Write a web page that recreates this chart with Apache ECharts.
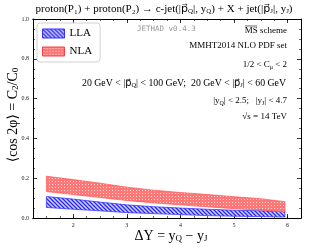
<!DOCTYPE html>
<html><head><meta charset="utf-8">
<script src="https://cdn.jsdelivr.net/npm/echarts@6/dist/echarts.min.js"></script>
<style>html,body{margin:0;padding:0;background:#fff}#c{width:316px;height:249px}</style>
</head><body><div id="c"></div>
<script>
// ---- data ----
const deltaY   = [1.5, 2, 2.5, 3, 3.5, 4, 4.5, 5, 5.5, 5.95];
const llaLow   = [0.053, 0.044, 0.036, 0.027, 0.022, 0.017, 0.012, 0.009, 0.007, 0.005];
const llaHigh  = [0.108, 0.095, 0.080, 0.066, 0.057, 0.050, 0.044, 0.039, 0.036, 0.033];
const nlaLow   = [0.133, 0.118, 0.103, 0.088, 0.076, 0.066, 0.056, 0.047, 0.040, 0.030];
const nlaHigh  = [0.210, 0.193, 0.175, 0.155, 0.140, 0.128, 0.118, 0.107, 0.097, 0.082];
const xMajor   = [2, 3, 4, 5, 6];

function hatch() {
  const c = document.createElement('canvas'); c.width = c.height = 4;
  const g = c.getContext('2d');
  g.fillStyle = '#d0d0ff'; g.fillRect(0, 0, 4, 4);
  g.strokeStyle = '#2828f0'; g.lineWidth = 1.3;
  g.beginPath();
  g.moveTo(0, 0); g.lineTo(4, 4);
  g.moveTo(-1, 3); g.lineTo(1, 5);
  g.moveTo(3, -1); g.lineTo(5, 1);
  g.stroke();
  return c;
}
function dots() {
  const c = document.createElement('canvas'); c.width = c.height = 3;
  const g = c.getContext('2d');
  g.fillStyle = '#ff7878'; g.fillRect(0, 0, 3, 3);
  g.fillStyle = '#ffd8d8'; g.fillRect(1, 1, 1, 1);
  return c;
}
const bluePat = {image: hatch(), repeat: 'repeat'};
const redPat = {image: dots(), repeat: 'repeat'};

const serif = '"Liberation Serif", "DejaVu Serif", serif';
const chart = echarts.init(document.getElementById('c'), null, {renderer: 'canvas'});

const X0 = 1.25, X1 = 6.25;
function xAx(pos, major, labels) {
  return {
    type: 'value', position: pos, min: X0, max: X1,
    interval: 0.25,
    axisLine: {show: true, onZero: false, lineStyle: {color: '#000', width: 1}},
    splitLine: {show: false},
    axisTick: major ? {show: true, inside: true, length: 4, customValues: xMajor, lineStyle: {color: '#000', width: 0.8}}
                    : {show: true, inside: true, length: 2, lineStyle: {color: '#000', width: 0.6}},
    axisLabel: labels ? {show: true, customValues: xMajor, fontSize: 6, fontFamily: serif, color: '#222', margin: 4}
                      : {show: false}
  };
}
function yAx(pos, labels) {
  return {
    type: 'value', position: pos, min: 0, max: 1.0, interval: 0.2,
    axisLine: {show: true, onZero: false, lineStyle: {color: '#000', width: 1}},
    splitLine: {show: false},
    axisTick: {show: true, inside: true, length: 4, lineStyle: {color: '#000', width: 0.8}},
    minorTick: {show: true, splitNumber: 4, length: 2, lineStyle: {color: '#000', width: 0.6}},
    axisLabel: labels ? {show: true, fontSize: 6, fontFamily: serif, color: '#222', margin: 4,
                         formatter: v => v.toFixed(1)} : {show: false}
  };
}

function band(name, low, high, col, pat) {
  return {
    type: 'custom', name: name, silent: true, xAxisIndex: 0, yAxisIndex: 0,
    itemStyle: {color: pat, borderColor: col},
    data: deltaY.map((x, i) => [x, low[i], high[i]]),
    encode: {x: 0, y: [1, 2]},
    renderItem: function (params, api) {
      if (params.dataIndex !== 0) return null;
      const lo = deltaY.map((x, i) => api.coord([x, low[i]]));
      const hi = deltaY.map((x, i) => api.coord([x, high[i]]));
      const poly = lo.concat(hi.slice().reverse());
      return {
        type: 'group',
        children: [
          {type: 'polygon', shape: {points: poly}, style: {fill: pat, stroke: null}},
          {type: 'polyline', shape: {points: lo}, style: {stroke: col, lineWidth: 0.7, fill: null}},
          {type: 'polyline', shape: {points: hi}, style: {stroke: col, lineWidth: 0.7, fill: null}},
          {type: 'line', shape: {x1: lo[0][0], y1: lo[0][1], x2: hi[0][0], y2: hi[0][1]}, style: {stroke: col, lineWidth: 0.7}},
          {type: 'line', shape: {x1: lo[lo.length-1][0], y1: lo[lo.length-1][1], x2: hi[hi.length-1][0], y2: hi[hi.length-1][1]}, style: {stroke: col, lineWidth: 0.7}}
        ]
      };
    }
  };
}

const sub = {fontSize: 7, fontFamily: serif, padding: [5, 0, 0, 0]};
const vec = {fontSize: 11, fontFamily: '"DejaVu Sans", sans-serif'};
const sub9 = {fontSize: 6, fontFamily: serif, padding: [4, 0, 0, 0]};
const vec9 = {fontSize: 9, fontFamily: '"DejaVu Sans", sans-serif'};
const sub10 = {fontSize: 6.5, fontFamily: serif, padding: [4, 0, 0, 0]};
const vec10 = {fontSize: 9.8, fontFamily: '"DejaVu Sans", sans-serif'};

const opt = {
  animation: false,
  grid: {left: 33, right: 15, top: 19, bottom: 31},
  xAxis: [xAx('bottom', false, false), xAx('bottom', true, true), xAx('top', false, false), xAx('top', true, false)],
  yAxis: [yAx('left', true), yAx('right', false)],
  legend: {
    orient: 'vertical', left: 37, top: 23,
    data: [
      {name: 'LLA', icon: 'rect', itemStyle: {color: bluePat, borderColor: '#3030ff', borderWidth: 1}},
      {name: 'NLA', icon: 'rect', itemStyle: {color: redPat, borderColor: '#ff4040', borderWidth: 1}}
    ],
    itemWidth: 22, itemHeight: 9, itemGap: 7,
    padding: [5, 8, 5, 5],
    backgroundColor: '#fff', borderColor: '#d0d0d0', borderWidth: 1, borderRadius: 3,
    textStyle: {fontFamily: serif, fontSize: 11, color: '#000'}
  },
  series: [
    band('LLA', llaLow, llaHigh, '#2a2aff', bluePat),
    band('NLA', nlaLow, nlaHigh, '#ff5050', redPat)
  ],
  graphic: [
    {type: 'text', z: 100, x: 164, y: 9, style: {
      text: 'proton(P₁) + proton(P₂) → c-jet(|{v|p⃗}{s|Q}|, y{s|Q}) + X + jet(|{v|p⃗}{s|J}|, y{s|J})',
      textAlign: 'center', textVerticalAlign: 'middle', font: '11px ' + serif, fill: '#000',
      rich: {s: sub, v: vec}
    }},
    {type: 'text', z: 100, x: 137, y: 29, style: {text: 'JETHAD v0.4.3', textVerticalAlign: 'middle',
      font: '7.5px "DejaVu Sans Mono", monospace', fill: '#999'}},
    {type: 'text', z: 100, x: 287, y: 31, style: {text: 'MS scheme', textAlign: 'right', textVerticalAlign: 'middle', font: '9px ' + serif, fill: '#000'}},
    {type: 'line', z: 100, shape: {x1: 245, y1: 26, x2: 257, y2: 26}, style: {stroke: '#000', lineWidth: 0.6}},
    {type: 'text', z: 100, x: 287, y: 46, style: {text: 'MMHT2014 NLO PDF set', textAlign: 'right', textVerticalAlign: 'middle', font: '9px ' + serif, fill: '#000'}},
    {type: 'text', z: 100, x: 287, y: 65, style: {text: '1/2 < C{s|μ} < 2', textAlign: 'right', textVerticalAlign: 'middle', font: '9px ' + serif, fill: '#000',
      rich: {s: sub9}}},
    {type: 'text', z: 100, x: 286, y: 83, style: {text: '20 GeV < |{v|p⃗}{s|Q}| < 100 GeV;  20 GeV < |{v|p⃗}{s|J}| < 60 GeV', textAlign: 'right', textVerticalAlign: 'middle', font: '9.8px ' + serif, fill: '#000',
      rich: {s: sub10, v: vec10}}},
    {type: 'text', z: 100, x: 287, y: 101, style: {text: '|y{s|Q}| < 2.5;   |y{s|J}| < 4.7', textAlign: 'right', textVerticalAlign: 'middle', font: '9px ' + serif, fill: '#000',
      rich: {s: sub9}}},
    {type: 'text', z: 100, x: 287, y: 117, style: {text: '√s = 14 TeV', textAlign: 'right', textVerticalAlign: 'middle', font: '9px ' + serif, fill: '#000'}},
    {type: 'text', z: 100, x: 13, y: 115, rotation: Math.PI / 2, style: {
      text: '⟨cos 2φ⟩ = C{s|2}/C{s|0}', textAlign: 'center', textVerticalAlign: 'middle', font: '14px ' + serif, fill: '#000',
      rich: {s: {fontSize: 9, fontFamily: serif, padding: [6, 0, 0, 0]}}
    }},
    {type: 'text', z: 100, x: 171, y: 236, style: {
      text: 'ΔY = y{s|Q} − y{s|J}', textAlign: 'center', textVerticalAlign: 'middle', font: '14px ' + serif, fill: '#000',
      rich: {s: {fontSize: 9, fontFamily: serif, padding: [6, 0, 0, 0]}}
    }}
  ]
};
chart.setOption(opt);
</script></body></html>
